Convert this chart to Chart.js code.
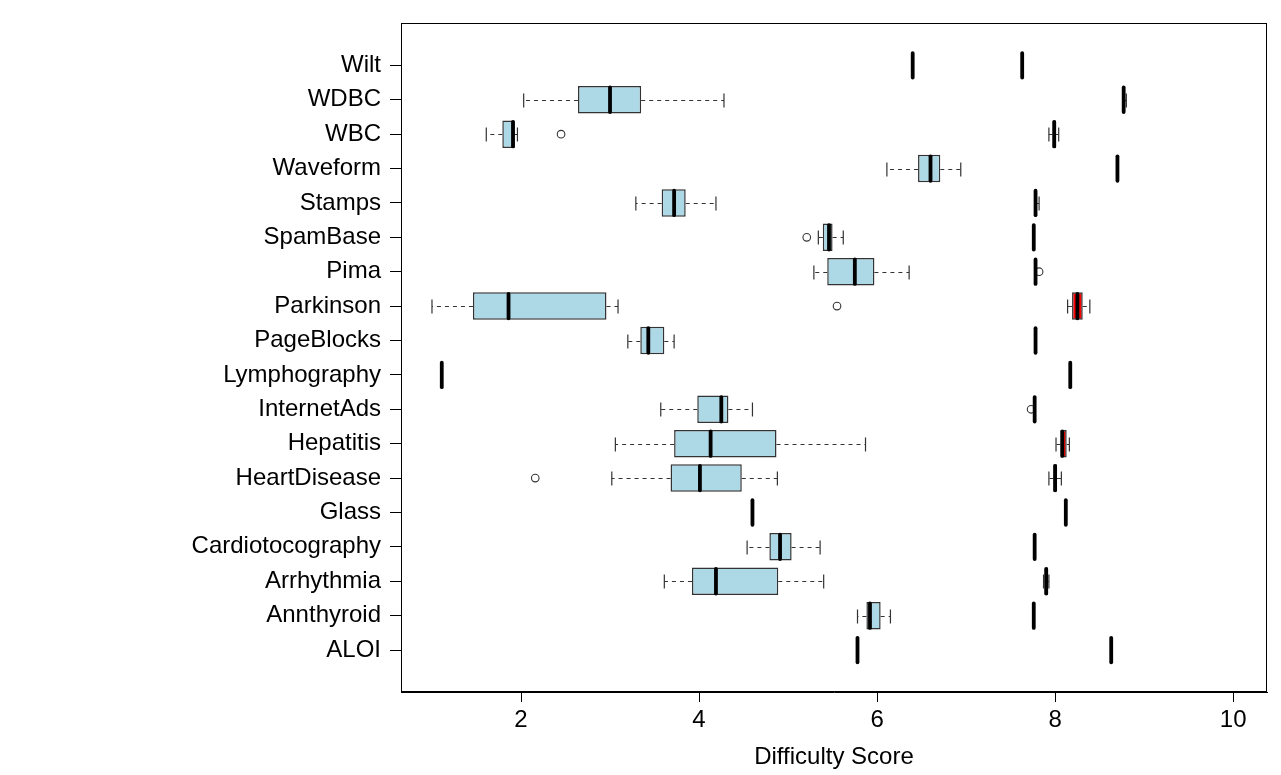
<!DOCTYPE html>
<html><head><meta charset="utf-8">
<script src="https://cdn.jsdelivr.net/npm/chart.js@4/dist/chart.umd.min.js"></script>
<style>html,body{margin:0;padding:0;background:#fff}#wrap{width:1281px;height:775px}</style>
</head><body><div id="wrap"><canvas id="c" width="1281" height="775"></canvas></div>
<script>
// categories from bottom (position 1) to top (position 18)
const categories = ["ALOI","Annthyroid","Arrhythmia","Cardiotocography","Glass","HeartDisease","Hepatitis","InternetAds","Lymphography","PageBlocks","Parkinson","Pima","SpamBase","Stamps","Waveform","WBC","WDBC","Wilt"];

// light-blue series
const blueMin = [5.78,5.78,3.61,4.54,4.60,3.02,3.06,3.57,1.11,3.20,1.00,5.29,5.34,3.29,6.11,1.61,2.03,6.40];
const blueQ1  = [5.78,5.88,3.92,4.79,4.60,3.68,3.72,3.98,1.11,3.34,1.46,5.44,5.39,3.58,6.46,1.79,2.64,6.40];
const blueMed = [5.78,5.92,4.19,4.91,4.60,4.01,4.13,4.25,1.11,3.43,1.86,5.75,5.46,3.72,6.60,1.91,3.00,6.40];
const blueQ3  = [5.78,6.04,4.89,5.04,4.60,4.48,4.87,4.33,1.11,3.61,2.96,5.97,5.50,3.85,6.71,1.93,3.35,6.40];
const blueMax = [5.78,6.15,5.40,5.36,4.60,4.88,5.87,4.60,1.11,3.72,3.09,6.36,5.62,4.19,6.94,1.96,4.28,6.40];
const blueOutCat = ["HeartDisease","Parkinson","SpamBase","WBC"];
const blueOutVal = [2.16,5.55,5.21,2.45];

// red series
const redMin = [8.63,7.76,7.87,7.77,8.12,7.93,8.01,7.77,8.17,7.78,8.14,7.78,7.76,7.77,8.70,7.93,8.77,7.63];
const redQ1  = [8.63,7.76,7.88,7.77,8.12,7.98,8.06,7.77,8.17,7.78,8.19,7.78,7.76,7.78,8.70,7.97,8.77,7.63];
const redMed = [8.63,7.76,7.90,7.77,8.12,8.00,8.08,7.77,8.17,7.78,8.25,7.78,7.76,7.78,8.70,7.99,8.77,7.63];
const redQ3  = [8.63,7.76,7.92,7.77,8.12,8.02,8.13,7.77,8.17,7.78,8.31,7.78,7.76,7.79,8.70,8.01,8.78,7.63];
const redMax = [8.63,7.76,7.93,7.77,8.12,8.07,8.16,7.77,8.17,7.78,8.39,7.78,7.76,7.82,8.70,8.04,8.80,7.63];
const redOutCat = ["InternetAds","Pima"];
const redOutVal = [7.73,7.82];

const xTicks = [2,4,6,8,10];
const xTitle = "Difficulty Score";

const FONT = "'Liberation Sans', Arial, Helvetica, sans-serif";
Chart.defaults.font.family = FONT;
Chart.defaults.color = '#000';

const pos = c => categories.indexOf(c) + 1;
const series = [
  {min: blueMin, q1: blueQ1, med: blueMed, q3: blueQ3, max: blueMax, fill: '#ADD8E6'},
  {min: redMin, q1: redQ1, med: redMed, q3: redQ3, max: redMax, fill: '#FF0000'}
];

function boxData(s) {
  return categories.map((c, i) => ({x: [s.q1[i], s.q3[i]], y: i + 1}));
}

const boxPlugin = {
  id: 'boxExtras',
  beforeDatasetsDraw(chart) {
    const ctx = chart.ctx, xs = chart.scales.x, ys = chart.scales.y;
    ctx.save();
    series.forEach((s, si) => {
      const meta = chart.getDatasetMeta(si);
      categories.forEach((c, i) => {
        const half = meta.data[i].height / 2;
        const y = Math.round(ys.getPixelForValue(i + 1)) + 0.5;
        const pMin = xs.getPixelForValue(s.min[i]), pQ1 = xs.getPixelForValue(s.q1[i]);
        const pQ3 = xs.getPixelForValue(s.q3[i]), pMax = xs.getPixelForValue(s.max[i]);
        ctx.strokeStyle = '#333';
        ctx.lineWidth = 1.2;
        ctx.setLineDash([4, 4]);
        ctx.beginPath();
        if (pQ1 - pMin > 0.5) { ctx.moveTo(pQ1, y); ctx.lineTo(pMin, y); }
        if (pMax - pQ3 > 0.5) { ctx.moveTo(pQ3, y); ctx.lineTo(pMax, y); }
        ctx.stroke();
        ctx.setLineDash([]);
        ctx.beginPath();
        [pMin, pMax].forEach(p => { ctx.moveTo(p, y - half / 2); ctx.lineTo(p, y + half / 2); });
        ctx.stroke();
      });
    });
    ctx.restore();
  },
  afterDatasetsDraw(chart) {
    const ctx = chart.ctx, xs = chart.scales.x, ys = chart.scales.y;
    ctx.save();
    series.forEach((s, si) => {
      const meta = chart.getDatasetMeta(si);
      categories.forEach((c, i) => {
        const half = meta.data[i].height / 2;
        const y = ys.getPixelForValue(i + 1);
        const p = xs.getPixelForValue(s.med[i]);
        ctx.strokeStyle = '#000';
        ctx.lineWidth = 3.8;
        ctx.lineCap = 'round';
        ctx.beginPath();
        ctx.moveTo(p, y - half + 1.5);
        ctx.lineTo(p, y + half - 1.5);
        ctx.stroke();
      });
    });
    const a = chart.chartArea;
    ctx.lineCap = 'butt';
    ctx.lineWidth = 1;
    ctx.strokeStyle = '#000';
    ctx.strokeRect(Math.round(a.left) + 0.5, Math.round(a.top) + 0.5, Math.round(a.right - a.left) - 1, Math.round(a.bottom - a.top) - 1);
    ctx.restore();
  }
};

const outlierStyle = {type: 'scatter', pointStyle: 'circle', pointRadius: 3.8, pointBorderWidth: 1.1,
  pointBackgroundColor: 'rgba(0,0,0,0)', pointBorderColor: '#333', showLine: false};

new Chart(document.getElementById('c'), {
  type: 'bar',
  data: {
    datasets: [
      {label: 'blue', data: boxData(series[0]), backgroundColor: series[0].fill, borderColor: '#333',
       borderWidth: 1.5, borderSkipped: false, grouped: false, barPercentage: 0.8, categoryPercentage: 1},
      {label: 'red', data: boxData(series[1]), backgroundColor: series[1].fill, borderColor: '#333',
       borderWidth: 1.5, borderSkipped: false, grouped: false, barPercentage: 0.8, categoryPercentage: 1},
      Object.assign({label: 'blueOut', data: blueOutCat.map((c, i) => ({x: blueOutVal[i], y: pos(c)}))}, outlierStyle),
      Object.assign({label: 'redOut', data: redOutCat.map((c, i) => ({x: redOutVal[i], y: pos(c)}))}, outlierStyle)
    ]
  },
  options: {
    indexAxis: 'y',
    responsive: false,
    animation: false,
    devicePixelRatio: 1,
    layout: {padding: {top: 23, right: 14, bottom: 0, left: 0}},
    plugins: {legend: {display: false}, tooltip: {enabled: false}},
    scales: {
      x: {
        type: 'linear', position: 'bottom', min: 0.652, max: 10.38,
        afterBuildTicks: s => { s.ticks = xTicks.map(v => ({value: v})); },
        ticks: {font: {size: 24}, color: '#000', padding: 4, autoSkip: false, maxRotation: 0, callback: v => String(v)},
        grid: {drawOnChartArea: false, drawTicks: true, tickLength: 10, color: '#000', offset: false},
        border: {display: true, color: '#000'},
        title: {display: true, text: xTitle, font: {size: 24}, color: '#000', padding: {top: 0, bottom: 3}},
        afterFit: s => { s.height = 83; }
      },
      y: {
        type: 'linear', position: 'left', min: -0.22, max: 19.22, offset: false,
        afterBuildTicks: s => { s.ticks = categories.map((c, i) => ({value: i + 1})); },
        ticks: {font: {size: 24}, color: '#000', padding: 9, autoSkip: false, callback: v => categories[v - 1] || ''},
        grid: {drawOnChartArea: false, drawTicks: true, tickLength: 11, color: '#000', offset: false},
        border: {display: true, color: '#000'},
        afterFit: s => { s.width = 401; }
      }
    }
  },
  plugins: [boxPlugin]
});
</script></body></html>
